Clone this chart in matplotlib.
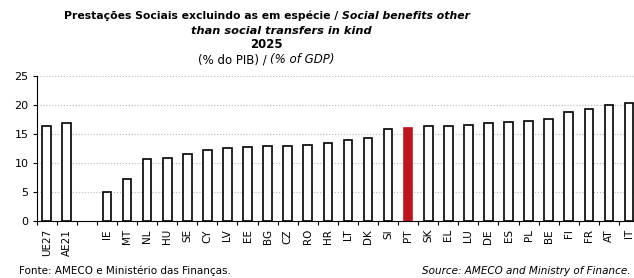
import numpy as np
import matplotlib.pyplot as plt

countries = ['UE27', 'AE21', '', 'IE', 'MT', 'NL', 'HU', 'SE', 'CY', 'LV', 'EE', 'BG', 'CZ',
             'RO', 'HR', 'LT', 'DK', 'SI', 'PT', 'SK', 'EL', 'LU', 'DE', 'ES', 'PL', 'BE',
             'FI', 'FR', 'AT', 'IT']
values = [16.4, 16.8, np.nan, 5.0, 7.2, 10.6, 10.8, 11.6, 12.2, 12.6, 12.7, 12.85, 12.9,
          13.1, 13.5, 13.9, 14.3, 15.8, 16.1, 16.3, 16.4, 16.6, 16.8, 17.0, 17.3, 17.6,
          18.8, 19.3, 20.0, 20.3]
highlight = 'PT'
yticks = [0, 5, 10, 15, 20, 25]

W, H = 634, 278
fig = plt.figure(figsize=(W / 100, H / 100), dpi=100)
ax = fig.add_axes([36.7 / W, 1 - 220.7 / H, 1 - 36.7 / W, (220.7 - 76) / H])

x = np.arange(len(countries))
colors = ['#c0141c' if c == highlight else 'white' for c in countries]
edges = ['#c0141c' if c == highlight else 'black' for c in countries]
ax.bar(x, values, width=0.43, color=colors, edgecolor=edges, linewidth=1.2, zorder=3)

ax.set_xlim(-0.5, 29.25)
ax.set_ylim(0, 25)
ax.set_yticks(yticks)
ax.set_yticklabels([str(v) for v in yticks], fontsize=8)
ax.set_xticks(x)
ax.set_xticklabels(countries, rotation=90, fontsize=7.5)
ax.tick_params(axis='x', length=0, pad=6)
ax.set_xticks(np.arange(-0.5, 29.5, 1), minor=True)
ax.tick_params(axis='x', which='minor', length=3, width=0.8)
ax.tick_params(axis='y', length=3, width=0.8, pad=3)
ax.grid(axis='y', color='#b8b8b8', linestyle=':', linewidth=0.8, zorder=0)
for s in ['top', 'right']:
    ax.spines[s].set_visible(False)
for s in ['left', 'bottom']:
    ax.spines[s].set_linewidth(0.8)

renderer = fig.canvas.get_renderer()


def line(parts, cx, y, size):
    # parts: list of (text, weight, style); laid out left to right, centred at cx
    texts = []
    total = 0
    for txt, weight, style in parts:
        t = fig.text(0, y / H, txt, fontsize=size, fontweight=weight, fontstyle=style,
                     ha='left', va='center', transform=fig.transFigure)
        w = t.get_window_extent(renderer).width
        texts.append((t, w))
        total += w
    left = cx - total / 2
    for t, w in texts:
        t.set_x(left / W)
        left += w


# y measured from top -> convert
def ty(p):
    return H - p


line([('Prestações Sociais excluindo as em espécie / ', 'bold', 'normal'),
      ('Social benefits other', 'bold', 'italic')], 266.5, ty(16), 7.8)
line([('than social transfers in kind', 'bold', 'italic')], 281, ty(31), 8.2)
line([('2025', 'bold', 'normal')], 266.5, ty(45), 8.5)
line([('(% do PIB) / ', 'normal', 'normal'), ('(% of GDP)', 'normal', 'italic')], 266.5, ty(60), 8.5)

fig.text(19 / W, ty(271) / H, 'Fonte: AMECO e Ministério das Finanças.', fontsize=7.5,
         ha='left', va='center')
fig.text(630 / W, ty(271) / H, 'Source: AMECO and Ministry of Finance.', fontsize=7.5,
         ha='right', va='center', fontstyle='italic')

fig.savefig('out.png', dpi=100)
